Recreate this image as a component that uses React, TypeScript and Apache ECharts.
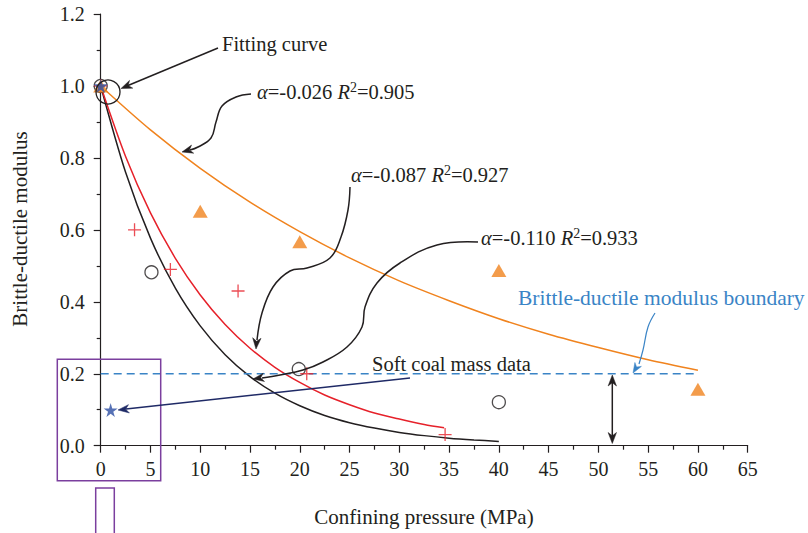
import React, { useEffect, useRef } from 'react';
import * as echarts from 'echarts';

const FONT = '"Liberation Serif", "Times New Roman", serif';
const INK = '#231f20';
const ORANGE = '#f0831e';
const RED = '#e6212a';
const BLUE = '#3a84c6';
const NAVY = '#1f2a66';
const STAR = '#2c4ea3';
const PURPLE = '#7b3f9e';

// Axis ticks
const xMin = 0, xMax = 65, xStep = 5;
const yMin = 0, yMax = 1.2, yStep = 0.2;

// Measured points
const triX = [0, 10, 20, 40, 60];
const triY = [1.0, 0.652, 0.567, 0.487, 0.157];
const plusX = [0, 3.4, 7.0, 13.8, 20.7, 34.6];
const plusY = [1.0, 0.6, 0.49, 0.43, 0.2, 0.031];
const circX = [0, 5.1, 19.9, 40];
const circY = [1.0, 0.482, 0.213, 0.121];
const starX = [0, 1.0];
const starY = [1.0, 0.099];

// Fitting curves
const orangeFitX = [0, 5, 10, 15, 20, 25, 30, 35, 40, 45, 50, 55, 60];
const orangeFitY = [1.0, 0.878, 0.771, 0.677, 0.595, 0.522, 0.458, 0.403, 0.353, 0.31, 0.273, 0.239, 0.21];
const redFitX = [0, 2.5, 5, 7.5, 10, 12.5, 15, 17.5, 20, 22.5, 25, 27.5, 30, 32.5, 34.5];
const redFitY = [1.0, 0.804, 0.647, 0.521, 0.419, 0.337, 0.271, 0.218, 0.176, 0.141, 0.114, 0.091, 0.074, 0.059, 0.05];
const blackFitX = [0, 2.5, 5, 7.5, 10, 12.5, 15, 17.5, 20, 22.5, 25, 27.5, 30, 32.5, 35, 37.5, 40];
const blackFitY = [1.0, 0.76, 0.577, 0.438, 0.333, 0.253, 0.192, 0.146, 0.111, 0.084, 0.064, 0.049, 0.037, 0.028, 0.021, 0.016, 0.012];

// Boundary
const boundX = [0, 60];
const boundY = [0.2, 0.2];

const zip = (xs: number[], ys: number[]) => xs.map((x, i) => [x, ys[i]]);

const PLUS = 'path://M9,0h2v9h9v2h-9v9h-2v-9h-9v-2h9z';
const STARP = 'path://M50,0 L61,35 L98,35 L68,57 L79,91 L50,70 L21,91 L32,57 L2,35 L39,35 Z';

function arrowHead(tx: number, ty: number, fx: number, fy: number, color: string, len = 11, hw = 4.2) {
  const dx = tx - fx, dy = ty - fy;
  const d = Math.hypot(dx, dy) || 1;
  const ux = dx / d, uy = dy / d;
  const px = -uy, py = ux;
  const bx = tx - ux * len, by = ty - uy * len;
  const nx = tx - ux * len * 0.7, ny = ty - uy * len * 0.7;
  return {
    type: 'polygon',
    z: 100,
    shape: { points: [[tx, ty], [bx + px * hw, by + py * hw], [nx, ny], [bx - px * hw, by - py * hw]] },
    style: { fill: color, stroke: color, lineWidth: 0.5 },
  };
}

function curve(points: number[][], color: string, width = 1.5, smooth = 0.4) {
  return {
    type: 'polyline',
    z: 100,
    shape: { points, smooth },
    style: { stroke: color, lineWidth: width, fill: null },
  };
}

function label(x: number, y: number, text: string, color = INK, size = 20.5, extra: any = {}) {
  return {
    type: 'text',
    z: 101,
    x,
    y,
    style: {
      text,
      fill: color,
      fontFamily: FONT,
      fontSize: size,
      align: 'left',
      verticalAlign: 'middle',
      ...extra,
    },
  };
}

function alphaLabel(x: number, y: number, a: string, r2: string) {
  return label(x, y, `{i|α}=${a} {i|R}{s|2}=${r2}`, INK, 20.5, {
    rich: {
      i: { fontStyle: 'italic', fontFamily: FONT, fontSize: 20.5, fill: INK },
      s: { fontFamily: FONT, fontSize: 14, fill: INK, verticalAlign: 'top', padding: [0, 0, 9, 0] },
    },
  });
}

export default function App() {
  const ref = useRef<HTMLDivElement>(null);
  useEffect(() => {
    if (!ref.current) return;
    const chart = echarts.init(ref.current, undefined, { renderer: 'svg' });

    const axisCommon = {
      axisLine: { show: true, onZero: false, lineStyle: { color: INK, width: 1.2 } },
      axisTick: { show: true, inside: false, length: 7, lineStyle: { color: INK, width: 1.2 } },
      minorTick: { show: true, splitNumber: 2, length: 4, lineStyle: { color: INK, width: 1.2 } },
      splitLine: { show: false },
      minorSplitLine: { show: false },
    };

    const graphics: any[] = [
      // purple boxes
      { type: 'rect', z: 90, shape: { x: 57.3, y: 359.3, width: 103.4, height: 121.4 }, style: { fill: null, stroke: PURPLE, lineWidth: 1.5 } },
      { type: 'rect', z: 90, shape: { x: 95.7, y: 488, width: 18.6, height: 60 }, style: { fill: null, stroke: PURPLE, lineWidth: 1.5 } },
      // fitting curve circle + arrow
      { type: 'circle', z: 100, shape: { cx: 108, cy: 92, r: 12 }, style: { fill: null, stroke: INK, lineWidth: 1.3 } },
      { type: 'line', z: 100, shape: { x1: 218, y1: 48, x2: 128, y2: 85.5 }, style: { stroke: INK, lineWidth: 1.5 } },
      arrowHead(121, 88.5, 218, 48, INK),
      label(222, 44, 'Fitting curve'),
      // alpha = -0.026
      alphaLabel(257, 92, '-0.026', '0.905'),
      curve([[251, 94], [236, 97], [222, 106], [216, 122], [211, 138], [198, 147], [190, 150]], INK),
      arrowHead(182, 152, 195, 148.5, INK),
      // alpha = -0.087
      alphaLabel(351, 175, '-0.087', '0.927'),
      curve([[350, 187], [348, 210], [341, 237], [330, 258], [307, 268], [290, 271], [273, 287], [262, 313], [257, 340]], INK),
      arrowHead(256, 349, 257, 336, INK),
      // alpha = -0.110
      alphaLabel(481, 238, '-0.110', '0.933'),
      curve([[478, 242], [437, 245], [400, 263], [377, 283], [365, 307], [362, 327], [347, 347], [323, 362], [303, 370], [280, 375], [262, 378]], INK),
      arrowHead(253, 379, 266, 377, INK),
      // soft coal mass data
      label(372, 364, 'Soft coal mass data'),
      { type: 'line', z: 100, shape: { x1: 410, y1: 378, x2: 126, y2: 409 }, style: { stroke: NAVY, lineWidth: 1.5 } },
      arrowHead(118, 410, 410, 378, NAVY),
      // boundary label
      label(518, 298, 'Brittle-ductile modulus boundary', BLUE, 21.5),
      curve([[655, 313], [648, 327], [643, 350], [639, 364]], BLUE, 1.2),
      arrowHead(633, 373, 639, 363, BLUE, 10, 3.8),
      // vertical double arrow
      { type: 'line', z: 100, shape: { x1: 612.3, y1: 382, x2: 612.3, y2: 436 }, style: { stroke: INK, lineWidth: 1.5 } },
      arrowHead(612.3, 375, 612.3, 400, INK),
      arrowHead(612.3, 443.5, 612.3, 420, INK),
      // axis names
      {
        type: 'text', z: 101, x: 20, y: 229, rotation: Math.PI / 2,
        style: { text: 'Brittle-ductile modulus', fill: INK, fontFamily: FONT, fontSize: 21, align: 'center', verticalAlign: 'middle' },
      },
      {
        type: 'text', z: 101, x: 424, y: 517,
        style: { text: 'Confining pressure (MPa)', fill: INK, fontFamily: FONT, fontSize: 21, align: 'center', verticalAlign: 'middle' },
      },
    ];

    chart.setOption({
      animation: false,
      backgroundColor: '#ffffff',
      grid: { left: 100.7, right: 60.3, top: 14, bottom: 87.3, containLabel: false },
      xAxis: {
        type: 'value', min: xMin, max: xMax, interval: xStep,
        ...axisCommon,
        axisLabel: { color: INK, fontFamily: FONT, fontSize: 20, margin: 13 },
      },
      yAxis: {
        type: 'value', min: yMin, max: yMax, interval: yStep,
        ...axisCommon,
        axisLabel: { color: INK, fontFamily: FONT, fontSize: 20, margin: 16, formatter: (v: number) => v.toFixed(1) },
      },
      graphic: graphics,
      series: [
        {
          type: 'line', data: zip(blackFitX, blackFitY), smooth: 0.3, showSymbol: false, symbol: 'none',
          lineStyle: { color: INK, width: 1.5 }, z: 2,
        },
        {
          type: 'line', data: zip(redFitX, redFitY), smooth: 0.3, showSymbol: false, symbol: 'none',
          lineStyle: { color: RED, width: 1.5 }, z: 2,
        },
        {
          type: 'line', data: zip(orangeFitX, orangeFitY), smooth: 0.3, showSymbol: false, symbol: 'none',
          lineStyle: { color: ORANGE, width: 1.5 }, z: 2,
        },
        {
          type: 'line', data: zip(boundX, boundY), showSymbol: false, symbol: 'none',
          lineStyle: { color: BLUE, width: 1.3, type: [8, 5] }, z: 2,
        },
        {
          type: 'scatter', data: zip(circX, circY), symbol: 'circle', symbolSize: 13,
          itemStyle: { color: '#ffffff', borderColor: INK, borderWidth: 1.3 }, z: 3,
        },
        {
          type: 'scatter', data: zip(plusX, plusY), symbol: PLUS, symbolSize: 13,
          itemStyle: { color: RED }, z: 4,
        },
        {
          type: 'scatter', data: zip(triX, triY), symbol: 'triangle', symbolSize: [15, 13],
          itemStyle: { color: ORANGE }, z: 5,
        },
        {
          type: 'scatter', data: zip(starX, starY), symbol: STARP, symbolSize: 14,
          itemStyle: { color: STAR }, z: 6,
        },
      ],
    });
    return () => chart.dispose();
  }, []);

  return <div ref={ref} style={{ position: 'fixed', left: 0, top: 0, width: 808, height: 533, background: '#fff' }} />;
}
